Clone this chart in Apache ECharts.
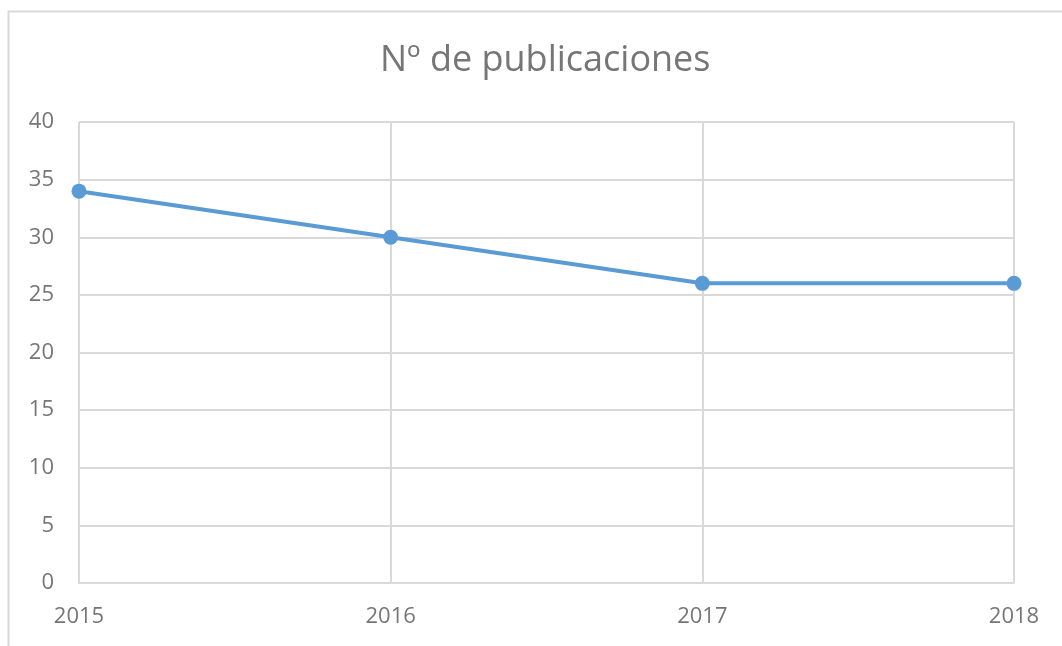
<!DOCTYPE html>
<html>
<head>
<meta charset="utf-8">
<script src="https://cdn.jsdelivr.net/npm/echarts@6/dist/echarts.min.js"></script>
<style>
  html, body { margin: 0; padding: 0; background: #fff; }
  #chart { width: 1062px; height: 646px; }
</style>
</head>
<body>
<div id="chart"></div>
<script>
var years = ['2015', '2016', '2017', '2018'];
var publicaciones = [34, 30, 26, 26];
var titulo = 'Nº de publicaciones';

var chart = echarts.init(document.getElementById('chart'));
var option = {
  animation: false,
  backgroundColor: '#fff',
  textStyle: { fontFamily: 'Open Sans, Liberation Sans, sans-serif' },
  graphic: [
    { // marco del gráfico (recortado a la derecha y abajo)
      type: 'rect',
      shape: { x: 8.5, y: 11.5, width: 1200, height: 800 },
      style: { fill: 'none', stroke: '#d9d9d9', lineWidth: 2 },
      silent: true
    }
  ],
  title: {
    text: titulo,
    left: 375,
    top: 38,
    textStyle: { color: '#767676', fontSize: 36, fontWeight: 'normal' }
  },
  grid: { left: 79, right: 48, top: 122, bottom: 63 },
  xAxis: {
    type: 'category',
    data: years,
    boundaryGap: false,
    axisTick: { show: false },
    axisLine: { lineStyle: { color: '#d9d9d9', width: 2 } },
    axisLabel: { color: '#767676', fontSize: 22, margin: 23 },
    splitLine: { show: true, lineStyle: { color: '#d9d9d9', width: 2 } }
  },
  yAxis: {
    type: 'value',
    min: 0,
    max: 40,
    interval: 5,
    axisTick: { show: false },
    axisLine: { show: false },
    axisLabel: { color: '#767676', fontSize: 22, margin: 25 },
    splitLine: { lineStyle: { color: '#d9d9d9', width: 2 } }
  },
  series: [{
    name: titulo,
    type: 'line',
    data: publicaciones,
    symbol: 'circle',
    symbolSize: 15,
    itemStyle: { color: '#5b9bd5' },
    lineStyle: { color: '#5b9bd5', width: 4 }
  }]
};
chart.setOption(option);
</script>
</body>
</html>
